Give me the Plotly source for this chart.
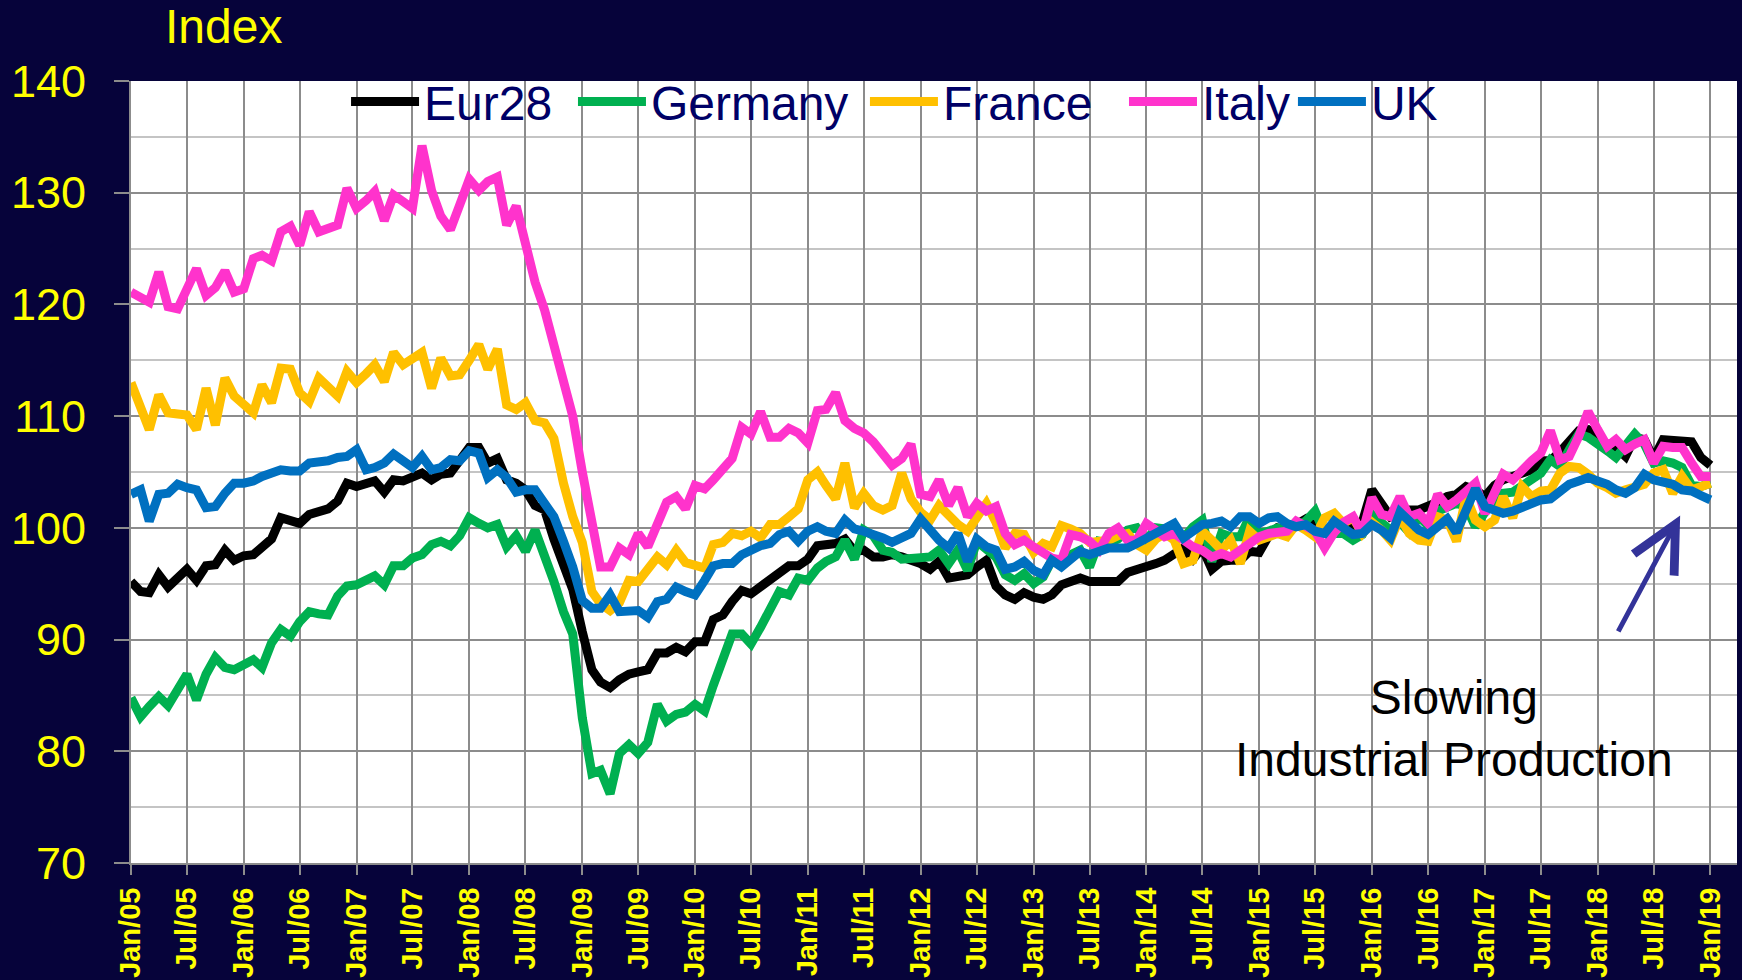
import pandas as pd
import plotly.graph_objects as go

dates = pd.date_range("2005-01-01", "2019-01-01", freq="MS")

eur28 = [95.2,94.3,94.2,95.8,94.7,95.6,96.3,95.3,96.6,96.7,98.0,97.1,
 97.5,97.6,98.2,99.0,100.9,100.7,100.4,101.2,101.5,101.7,102.4,104.0,
 103.7,103.9,104.2,103.2,104.3,104.2,104.5,104.9,104.3,104.8,104.9,106.0,
 107.2,107.2,105.8,106.2,104.3,104.0,103.4,102.0,101.6,99.0,96.8,94.5,
 90.7,87.3,86.2,85.7,86.4,86.9,87.1,87.3,88.8,88.8,89.3,88.9,
 89.8,89.8,91.8,92.2,93.4,94.4,94.1,94.7,95.5,96.1,96.6,96.6,
 97.2,98.4,98.4,98.6,99.0,97.9,98.0,97.4,97.4,97.6,97.4,97.2,
 96.8,96.3,97.0,95.5,95.7,95.8,96.5,97.1,94.8,94.0,93.6,94.2,
 93.8,93.6,94.0,94.9,95.2,95.5,95.2,95.2,95.3,95.2,96.0,96.2,
 96.4,96.8,97.1,97.6,98.2,97.2,98.2,96.3,97.0,97.1,97.1,97.9,
 97.8,99.3,100.0,99.8,100.4,100.8,100.1,99.8,100.1,100.4,100.2,100.5,
 103.4,102.2,101.0,101.4,101.6,101.6,101.9,102.3,102.8,103.0,103.7,103.4,
 102.8,103.8,104.3,104.6,104.9,105.2,106.0,106.0,106.8,107.8,108.7,108.8,
 108.2,107.0,107.2,106.4,108.1,107.9,106.2,107.9,107.8,107.9,107.7,106.3,
 105.6]

germany = [84.8,83.1,84.0,84.9,84.1,85.4,86.9,84.6,86.9,88.4,87.5,87.3,
 87.8,88.2,87.5,89.7,90.9,90.3,91.6,92.5,92.3,92.2,93.9,94.8,
 94.9,95.4,95.7,94.9,96.6,96.6,97.3,97.6,98.5,98.8,98.4,99.3,
 100.9,100.4,100.0,100.3,98.3,99.3,97.9,99.8,97.6,95.2,92.5,90.5,
 83.0,78.0,78.3,76.2,79.8,80.6,79.8,80.8,84.2,82.7,83.3,83.5,
 84.2,83.6,85.9,88.0,90.5,90.5,89.6,91.1,92.6,94.3,94.0,95.5,
 95.3,96.4,97.0,97.4,98.9,97.2,99.8,99.3,98.0,97.8,97.2,97.2,
 97.2,97.4,98.0,96.8,98.0,96.2,98.8,98.0,97.4,95.8,95.3,95.9,
 95.0,95.6,97.1,97.2,97.6,98.0,96.5,98.8,98.6,99.0,99.8,100.0,
 98.9,100.0,99.9,99.6,99.1,100.1,100.7,97.0,99.5,99.2,99.2,101.0,
 99.5,99.7,100.0,99.8,100.3,100.6,101.5,99.5,99.5,99.5,98.9,99.4,
 101.2,100.5,99.8,100.5,99.6,101.0,100.2,101.5,101.9,102.2,101.9,100.1,
 101.4,102.4,103.1,103.2,103.7,104.3,104.9,106.1,105.5,107.0,108.4,108.1,
 107.6,106.9,106.3,107.3,108.4,107.5,105.8,106.0,105.8,105.4,103.8,103.7,
 104.0]

france = [113.0,110.8,108.8,111.9,110.3,110.2,110.1,108.8,112.5,109.2,113.4,111.8,
 111.0,110.3,112.8,111.2,114.3,114.2,112.1,111.3,113.4,112.6,111.8,114.0,
 113.0,113.8,114.6,113.1,115.7,114.6,115.2,115.7,112.5,115.2,113.6,113.7,
 115.0,116.4,114.2,116.0,111.0,110.6,111.2,109.6,109.4,108.0,104.0,101.0,
 98.7,94.3,93.2,92.6,93.3,95.3,95.2,96.2,97.4,96.7,98.0,96.9,
 96.6,96.4,98.5,98.7,99.5,99.3,99.7,99.1,100.3,100.3,101.0,101.7,
 104.3,105.0,103.8,102.6,105.8,101.8,103.1,102.0,101.6,102.0,104.9,102.6,
 101.4,100.7,102.0,101.0,100.3,99.7,101.0,102.2,100.5,98.2,99.5,99.4,
 97.8,98.6,98.3,100.2,99.9,99.5,98.7,98.8,98.9,99.3,99.5,98.5,
 98.0,99.0,99.5,98.9,96.8,97.1,99.7,98.9,98.0,98.9,96.8,99.7,
 98.9,99.2,99.5,99.2,100.3,99.8,99.2,100.9,101.3,100.4,100.9,99.5,
 100.5,99.8,98.9,101.0,99.5,98.9,98.8,101.0,100.7,98.8,102.8,100.7,
 100.1,100.7,102.8,100.9,103.7,102.8,103.3,103.4,104.9,105.5,105.4,104.8,
 104.0,103.6,103.1,103.4,103.6,103.9,104.9,105.2,103.1,104.6,103.4,103.6,
 104.0]

italy = [121.1,120.5,120.2,122.9,119.8,119.6,121.5,123.2,120.8,121.5,123.0,121.1,
 121.4,124.1,124.4,123.9,126.5,127.0,125.3,128.3,126.5,126.8,127.1,130.4,
 128.6,129.3,130.1,127.5,129.8,129.2,128.6,134.2,130.2,127.9,126.7,128.9,
 131.2,130.2,131.0,131.4,127.1,128.8,125.0,122.0,119.5,116.5,113.5,110.0,
 105.0,101.0,96.5,96.5,98.2,97.6,99.5,98.3,100.5,102.3,102.8,101.7,
 103.8,103.5,104.3,105.4,106.2,109.0,108.4,110.4,108.1,108.1,108.9,108.5,
 107.6,110.5,110.6,112.1,109.6,108.9,108.5,107.7,106.5,105.6,106.2,107.5,
 103.0,102.8,104.3,102.0,103.6,101.0,102.2,101.5,101.9,99.5,98.5,98.9,
 98.3,97.7,97.3,97.1,99.4,99.2,98.8,98.0,99.5,100.0,98.9,98.9,
 100.4,99.8,99.2,99.5,98.9,98.3,98.0,97.4,97.7,97.4,98.0,98.6,
 99.2,99.5,99.5,99.7,100.6,100.2,99.7,98.2,99.6,100.5,101.0,99.5,
 102.7,101.2,101.0,102.8,101.0,101.3,100.4,103.0,101.9,102.5,103.3,104.0,
 101.3,103.1,104.8,104.3,105.2,106.0,106.7,108.7,106.1,106.4,108.2,110.4,
 108.8,107.3,107.9,107.0,107.5,107.9,105.8,107.3,107.2,107.2,105.8,104.6,
 104.6]

uk = [103.0,103.4,100.6,103.0,103.1,103.9,103.6,103.4,101.8,101.9,103.1,104.0,
 104.0,104.2,104.6,104.8,105.2,105.1,105.1,105.8,105.9,106.0,106.3,106.4,
 107.0,105.2,105.4,105.8,106.6,106.0,105.4,106.4,105.2,105.4,106.1,106.0,
 106.9,106.7,104.5,105.2,104.5,103.2,103.4,103.4,102.0,101.0,98.8,96.5,
 93.5,92.8,92.8,94.0,92.5,92.6,92.6,92.0,93.4,93.6,94.7,94.3,
 94.0,95.3,96.6,96.8,96.8,97.6,98.0,98.4,98.6,99.4,99.7,98.8,
 99.7,100.1,99.7,99.5,100.7,99.9,99.7,99.5,99.1,98.7,99.1,99.5,
 100.8,99.7,98.9,98.2,99.5,97.0,99.0,98.3,98.0,96.3,96.5,97.0,
 96.2,95.8,97.1,96.5,97.3,97.9,97.6,98.0,98.2,98.2,98.2,98.6,
 99.1,99.5,100.0,100.4,99.1,99.7,100.3,100.4,100.6,100.1,101.0,101.0,
 100.4,100.9,101.0,100.4,100.1,100.3,99.7,99.5,100.6,100.0,99.4,99.5,
 100.3,99.8,99.1,101.4,100.7,99.8,99.4,100.0,100.8,99.6,101.6,103.5,
 101.9,101.5,101.3,101.5,101.8,102.3,102.5,102.6,103.2,103.9,104.2,104.5,
 104.2,103.9,103.4,103.1,103.6,104.8,104.3,104.2,103.9,103.4,103.3,102.9,
 102.5]

series_names = ["Eur28", "Germany", "France", "Italy", "UK"]
series_values = [eur28, germany, france, italy, uk]
series_colors = ["#000000", "#00B050", "#FFC000", "#FF33CC", "#0070C0"]
legend_ids = ["legend", "legend2", "legend3", "legend4", "legend5"]
legend_x = [0.1339, 0.2752, 0.4570, 0.6183, 0.7235]

for n, v in zip(series_names, series_values):
    assert len(v) == len(dates), (n, len(v))

BG = "#06033A"
YELLOW = "#FFFF00"
FONT = "Liberation Sans, Arial, sans-serif"

fig = go.Figure()
for name, vals, col, lg in zip(series_names, series_values, series_colors, legend_ids):
    fig.add_trace(go.Scatter(x=dates, y=vals, name=name, mode="lines",
                             line=dict(color=col, width=9), legend=lg))

legend_layout = {}
for lg, lx in zip(legend_ids, legend_x):
    legend_layout[lg] = dict(orientation="h", x=lx, y=1.022, xanchor="left", yanchor="top",
                             bgcolor="rgba(0,0,0,0)",
                             font=dict(size=48, color="#000066", family=FONT),
                             itemwidth=68)

fig.update_layout(
    width=1742, height=980,
    paper_bgcolor=BG, plot_bgcolor="#FFFFFF",
    margin=dict(l=131, r=5, t=81, b=117, autoexpand=False),
    font=dict(family=FONT),
    showlegend=True,
    **legend_layout,
)

fig.update_xaxes(
    type="date", range=["2005-01-01", "2019-03-28"],
    tick0="2005-01-01", dtick="M6", tickformat="%b/%y",
    tickangle=-90, tickfont=dict(size=29, color=YELLOW, family=FONT, weight="bold"),
    ticks="outside", ticklen=10, tickwidth=2, tickcolor="#8C8C8C",
    ticklabelstandoff=1, automargin=False,
    showgrid=True, gridcolor="#8C8C8C", gridwidth=2,
    showline=True, linecolor="#8C8C8C", linewidth=2,
    zeroline=False,
)
fig.update_yaxes(
    range=[70, 140], dtick=10, tick0=70,
    tickfont=dict(size=45, color=YELLOW, family=FONT),
    ticks="outside", ticklen=15, tickwidth=2, tickcolor="#8C8C8C",
    ticklabelstandoff=19, automargin=False,
    showgrid=True, gridcolor="#8C8C8C", gridwidth=2,
    minor=dict(dtick=5, tick0=70, showgrid=True, gridcolor="#C4C4C4", gridwidth=2, ticks=""),
    showline=True, linecolor="#8C8C8C", linewidth=2,
    zeroline=False,
)

fig.add_annotation(text="Index", xref="paper", yref="paper", x=0.02, y=1.07,
                   xanchor="left", yanchor="middle", showarrow=False,
                   font=dict(size=48, color=YELLOW, family=FONT))

fig.add_annotation(text="Slowing<br>Industrial Production", xref="paper", yref="paper",
                   x=0.824, y=0.172, xanchor="center", yanchor="middle", showarrow=False,
                   font=dict(size=48, color="#000000", family=FONT))

fig.add_annotation(text="", x="2018-09-25", y=101.1, xref="x", yref="y",
                   ax="2018-03-06", ay=90.6, axref="x", ayref="y",
                   showarrow=True, arrowhead=5, arrowsize=1.8, arrowwidth=5,
                   arrowcolor="#333399")

fig.write_html("out.html",
               config={"displayModeBar": False},
               post_script="document.body.style.margin='0px';"
                           "document.body.style.backgroundColor='#06033A';")
